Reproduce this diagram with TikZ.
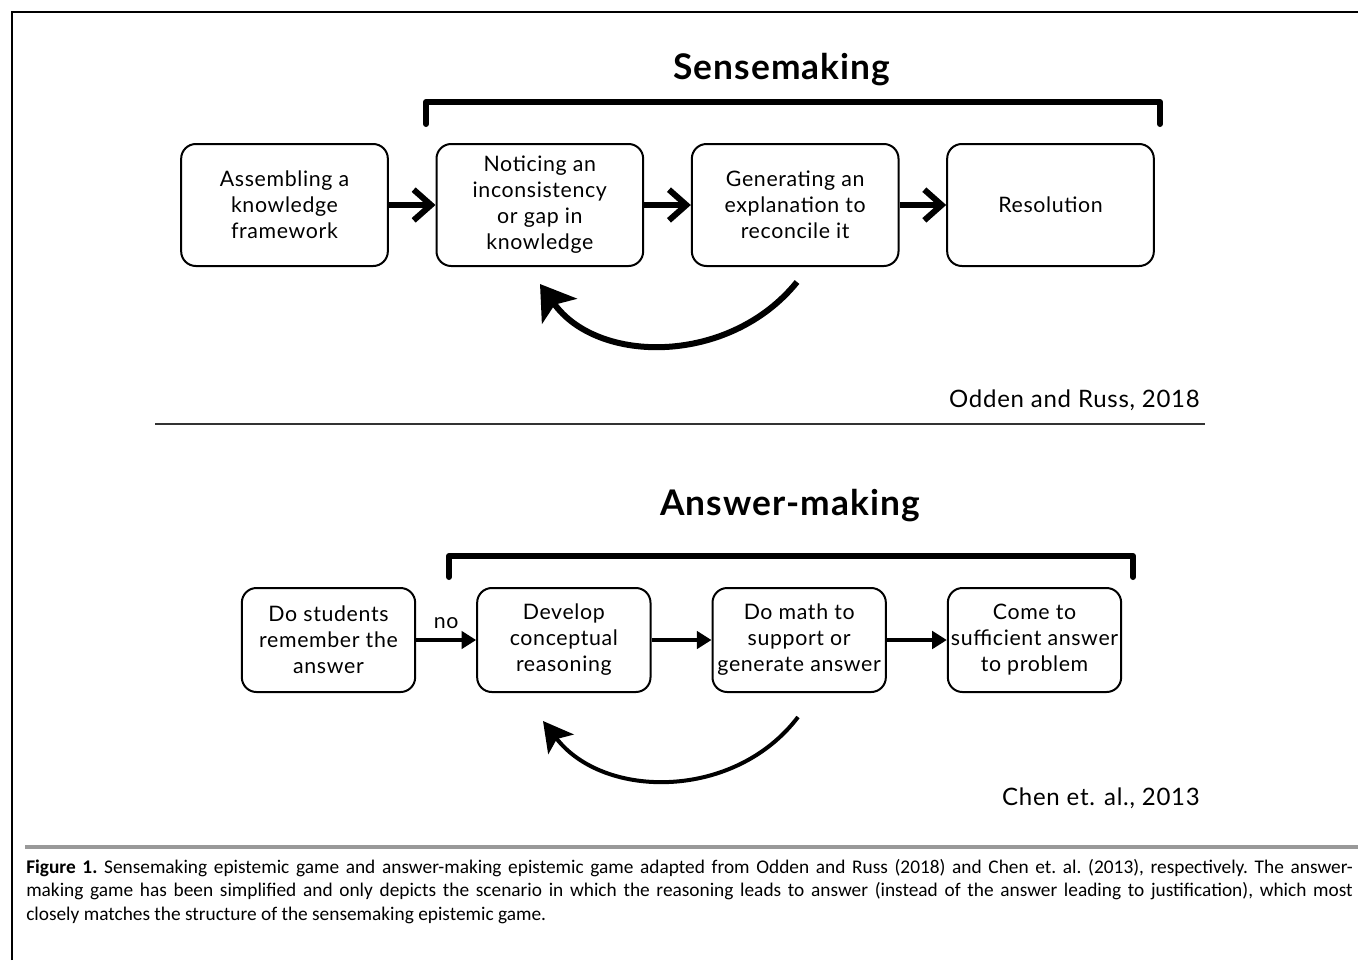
\documentclass[tikz,border=0pt]{standalone}
\usepackage{fontspec}
\setmainfont{Lato}[LetterSpace=3]
\newfontfamily\capfont{Carlito}
\usetikzlibrary{arrows.meta}
\usetikzlibrary{positioning}

\begin{document}
\begin{tikzpicture}[x=0.75pt,y=-0.75pt]
\tikzset{stagebox/.style={draw,line width=1.5pt,rounded corners=11pt,align=center,font=\fontsize{16}{19.5}\selectfont,inner sep=2pt},
bigbox/.style={stagebox,minimum width=155pt,minimum height=91.5pt},
smallbox/.style={stagebox,minimum width=130pt,minimum height=78pt},
gametitle/.style={font=\fontsize{26.5}{30}\selectfont\bfseries},
cite/.style={anchor=east,inner sep=0pt,font=\fontsize{18}{21}\selectfont},
bracket/.style={line width=4.5pt,line cap=round,line join=round},
bigstep/.style={line width=4.5pt,-{Straight Barb[length=13pt,width=23pt]}},
smallstep/.style={line width=3pt,-{Triangle[length=11pt,width=13pt]}}}
\useasboundingbox (0,0) rectangle (1358,960);
% frame
\draw[line width=1.6pt] (12,960) -- (12,12) -- (130,12);
\draw[line width=0.8pt] (130,12) -- (1248,12);
\draw[line width=1.8pt] (1248,12) -- (1358,12);
%
% sensemaking game
\node[gametitle](senstitle) at (782,70){Sensemaking};
\draw[bracket] (426,124) -- (426,102) -- (1160,102) -- (1160,124);
\node[bigbox](a) at (284.5,205){Assembling a\\knowledge\\framework};
\node[bigbox](b)[right=35pt of a]{Noticing an\\inconsistency\\or gap in\\knowledge};
\node[bigbox](c)[right=35pt of b]{Generating an\\explanation to\\reconcile it};
\node[bigbox](d)[right=35pt of c]{Resolution};
\draw[bigstep](a) -- (b);
\draw[bigstep](b) -- (c);
\draw[bigstep](c) -- (d);
\coordinate (sfrom) at (797,282);
\coordinate (sto) at (540,284);
\draw[line width=4.5pt,-{Stealth[length=25pt,width=32pt,inset=6pt]}](sfrom) .. controls (730,365) and (598,365) .. (sto);
\node[cite](odden) at (1200,400){Odden and Russ, 2018};
\draw[line width=1.5pt,black!80] (155,424) -- (1205,424);
%
% answer-making game
\node[gametitle](anstitle) at (790,506){Answer-making};
\draw[bracket] (449,577) -- (449,556) -- (1133,556) -- (1133,577);
\node[smallbox](e) at (328.5,640){Do students\\remember the\\answer};
\node[smallbox](f)[right=45pt of e]{Develop\\conceptual\\reasoning};
\node[smallbox](g)[right=45pt of f]{Do math to\\support or\\generate answer};
\node[smallbox](h)[right=45pt of g]{Come to\\sufficient answer\\to problem};
\draw[smallstep](e) -- node[above=4pt,font=\fontsize{16}{19}\selectfont]{no} (f);
\draw[smallstep](f) -- (g);
\draw[smallstep](g) -- (h);
\coordinate (afrom) at (798,717);
\coordinate (ato) at (543,721);
\draw[line width=3pt,-{Stealth[length=22pt,width=24pt,inset=5pt]}](afrom) .. controls (735,800) and (604,800) .. (ato);
\node[cite](chen) at (1200,798){Chen et. al., 2013};
%
% caption
\draw[line width=3pt,black!40] (25,847) -- (1358,847);
\node[anchor=north west,inner sep=0pt,text width=995pt,align=justify,font=\capfont\fontsize{14.5}{17.6}\selectfont\frenchspacing](caption) at (26,859){\textbf{Figure 1.} Sensemaking epistemic game and answer-making epistemic game adapted from Odden and Russ (2018) and Chen et. al. (2013), respectively. The answer-\linebreak making game has been simplified and only depicts the scenario in which the reasoning leads to answer (instead of the answer leading to justification), which most\linebreak closely matches the structure of the sensemaking epistemic game.};
\end{tikzpicture}
\end{document}
